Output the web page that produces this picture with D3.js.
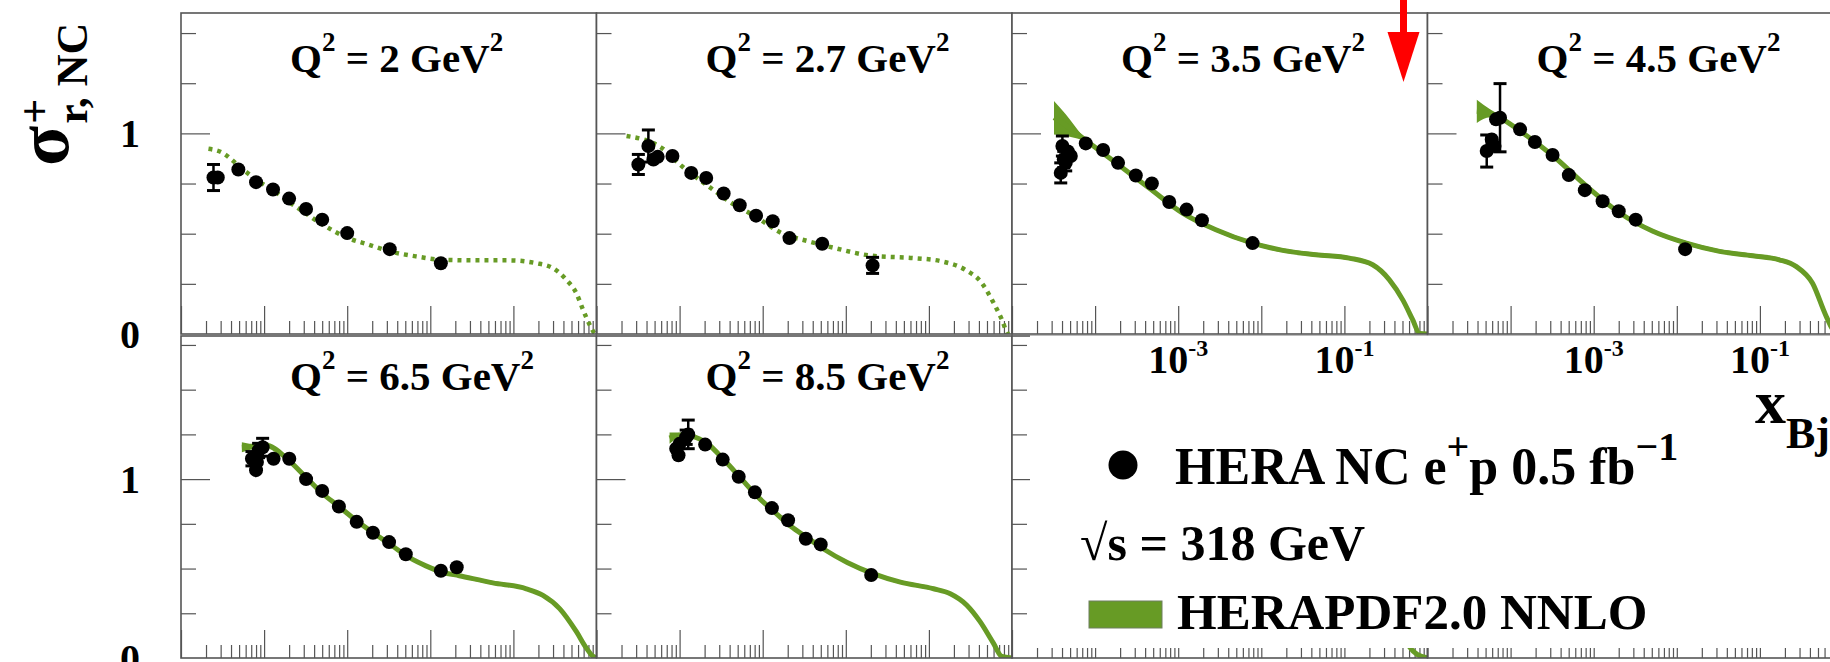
<!DOCTYPE html>
<html>
<head>
<meta charset="utf-8">
<script src="https://cdn.jsdelivr.net/npm/d3@7"></script>
<style>
  body { margin: 0; background: #fff; }
  svg { display: block; font-family: "Liberation Serif", "Times New Roman", serif; font-weight: bold; }
</style>
</head>
<body>
<svg id="chart" width="1830" height="662"></svg>
<script>
// Q^2 of each panel (GeV^2); below q2Min the prediction is drawn dotted
var q2Values = ["2", "2.7", "3.5", "4.5", "6.5", "8.5"];
var q2Min = 3.5;

// measured reduced cross sections: x_Bj, sigma, error
var xQ2_2     = [2.46e-5, 2.77e-5, 4.9e-5, 8.0e-5, 1.28e-4, 2.0e-4, 3.2e-4, 5.0e-4, 1.0e-3, 3.25e-3, 1.34e-2];
var sigmaQ2_2 = [0.78, 0.78, 0.82, 0.757, 0.72, 0.675, 0.623, 0.57, 0.503, 0.423, 0.353];
var errQ2_2   = [0.065, 0.02, 0.012, 0.012, 0.012, 0.012, 0.012, 0.012, 0.012, 0.012, 0.015];

var xQ2_27     = [3.19e-5, 4.21e-5, 4.84e-5, 5.45e-5, 8.2e-5, 1.38e-4, 2.09e-4, 3.39e-4, 5.29e-4, 8.32e-4, 1.32e-3, 2.1e-3, 5.2e-3, 2.1e-2];
var sigmaQ2_27 = [0.845, 0.937, 0.87, 0.883, 0.887, 0.803, 0.778, 0.70, 0.642, 0.59, 0.562, 0.478, 0.45, 0.342];
var errQ2_27   = [0.05, 0.08, 0.02, 0.02, 0.012, 0.012, 0.012, 0.012, 0.012, 0.012, 0.012, 0.012, 0.012, 0.04];

var xQ2_35     = [3.86e-5, 4.04e-5, 4.2e-5, 4.43e-5, 4.7e-5, 5.1e-5, 7.72e-5, 1.25e-4, 1.89e-4, 3.09e-4, 4.82e-4, 7.8e-4, 1.26e-3, 1.93e-3, 7.85e-3];
var sigmaQ2_35 = [0.803, 0.937, 0.87, 0.853, 0.91, 0.887, 0.95, 0.917, 0.853, 0.79, 0.75, 0.658, 0.62, 0.567, 0.453];
var errQ2_35   = [0.05, 0.05, 0.04, 0.04, 0.03, 0.03, 0.012, 0.012, 0.012, 0.012, 0.012, 0.012, 0.012, 0.012, 0.012];

var xQ2_45     = [5.16e-5, 5.93e-5, 6.4e-5, 6.68e-5, 7.46e-5, 1.3e-4, 1.96e-4, 3.2e-4, 5.02e-4, 7.82e-4, 1.28e-3, 2.0e-3, 3.2e-3, 1.26e-2];
var sigmaQ2_45 = [0.912, 0.97, 0.937, 1.07, 1.078, 1.02, 0.957, 0.892, 0.792, 0.717, 0.662, 0.612, 0.57, 0.423];
var errQ2_45   = [0.08, 0.03, 0.03, 0.03, 0.17, 0.012, 0.012, 0.012, 0.012, 0.012, 0.012, 0.012, 0.012, 0.012];

var xQ2_65     = [7.14e-5, 8.0e-5, 8.2e-5, 8.59e-5, 9.6e-5, 1.3e-4, 2.01e-4, 3.2e-4, 5.0e-4, 7.94e-4, 1.3e-3, 2.04e-3, 3.19e-3, 5.07e-3, 1.34e-2, 2.08e-2];
var sigmaQ2_65 = [1.114, 1.05, 1.096, 1.16, 1.178, 1.114, 1.114, 1.0, 0.934, 0.847, 0.761, 0.70, 0.648, 0.58, 0.488, 0.507];
var errQ2_65   = [0.04, 0.03, 0.03, 0.04, 0.05, 0.012, 0.012, 0.012, 0.012, 0.012, 0.012, 0.012, 0.012, 0.012, 0.012, 0.012];

var xQ2_85     = [9.1e-5, 9.7e-5, 1.0e-4, 1.2e-4, 1.27e-4, 2.03e-4, 3.3e-4, 5.14e-4, 8.06e-4, 1.29e-3, 2.02e-3, 3.3e-3, 4.99e-3, 2.02e-2];
var sigmaQ2_85 = [1.17, 1.133, 1.197, 1.234, 1.25, 1.193, 1.109, 1.013, 0.926, 0.838, 0.77, 0.667, 0.635, 0.464];
var errQ2_85   = [0.03, 0.03, 0.03, 0.04, 0.08, 0.012, 0.012, 0.012, 0.012, 0.012, 0.012, 0.012, 0.012, 0.012];

// HERAPDF2.0 NNLO prediction: x_Bj, sigma, band half width
var predXQ2_2 = [2.14e-5, 3.1e-5, 4.9e-5, 6.2e-5, 8e-5, 1.28e-4, 2e-4, 3.2e-4, 5e-4, 1e-3, 1.83e-3, 3.25e-3, 6.7e-3, 1.41e-2, 3.56e-2, 9e-2, 0.188, 0.30, 0.434, 0.573, 0.69, 0.83, 0.955, 1.0];
var predQ2_2  = [0.923, 0.905, 0.84, 0.805, 0.77, 0.717, 0.658, 0.60, 0.547, 0.48, 0.445, 0.412, 0.387, 0.37, 0.367, 0.367, 0.353, 0.328, 0.27, 0.203, 0.12, 0.045, 0.003, 0.0];

var predXQ2_27 = [2.3e-5, 6.07e-5, 1.06e-4, 2.21e-4, 4.23e-4, 8.09e-4, 1.69e-3, 3.55e-3, 7.43e-3, 2.06e-2, 6.84e-2, 0.143, 0.274, 0.435, 0.574, 0.76, 0.9, 1.0];
var predQ2_27  = [0.987, 0.928, 0.837, 0.737, 0.653, 0.587, 0.503, 0.462, 0.428, 0.39, 0.378, 0.362, 0.32, 0.253, 0.17, 0.07, 0.0, 0.0];

var predXQ2_35   = [3.2e-5, 4.43e-5, 7.03e-5, 1.78e-4, 4.47e-4, 1.13e-3, 2.84e-3, 7.85e-3, 1.81e-2, 4.56e-2, 0.115, 0.219, 0.348, 0.504, 0.665, 0.80, 1.0];
var predQ2_35    = [1.078, 1.041, 0.978, 0.853, 0.728, 0.603, 0.52, 0.453, 0.417, 0.395, 0.378, 0.345, 0.27, 0.17, 0.07, 0.003, 0.0];
var predErrQ2_35 = [0.083, 0.054, 0.012, 0.01, 0.01, 0.01, 0.01, 0.01, 0.01, 0.01, 0.01, 0.01, 0.01, 0.01, 0.01, 0.01, 0.01];

var predXQ2_45   = [3.92e-5, 5.66e-5, 7.46e-5, 1.3e-4, 3.26e-4, 8.2e-4, 2.06e-3, 5.16e-3, 1.3e-2, 3.27e-2, 8.2e-2, 0.171, 0.272, 0.43, 0.63, 0.8, 1.0];
var predQ2_45    = [1.11, 1.10, 1.078, 1.012, 0.887, 0.737, 0.603, 0.512, 0.453, 0.412, 0.39, 0.37, 0.337, 0.253, 0.087, 0.01, 0.0];
var predErrQ2_45 = [0.058, 0.02, 0.012, 0.01, 0.01, 0.01, 0.01, 0.01, 0.01, 0.01, 0.01, 0.01, 0.01, 0.01, 0.01, 0.01, 0.01];

var predXQ2_65   = [5.4e-5, 7.14e-5, 1.03e-4, 1.98e-4, 3.15e-4, 5e-4, 7.94e-4, 1.32e-3, 2.2e-3, 3.5e-3, 5.56e-3, 8.85e-3, 1.41e-2, 2.23e-2, 5.65e-2, 0.143, 0.227, 0.36, 0.573, 0.757, 0.91, 1.0];
var predQ2_65    = [1.178, 1.182, 1.19, 1.105, 1.013, 0.921, 0.847, 0.764, 0.69, 0.626, 0.562, 0.515, 0.479, 0.46, 0.42, 0.387, 0.35, 0.276, 0.147, 0.055, 0.009, 0.0];
var predErrQ2_65 = [0.028, 0.015, 0.01, 0.01, 0.01, 0.01, 0.01, 0.01, 0.01, 0.01, 0.01, 0.01, 0.01, 0.01, 0.01, 0.01, 0.01, 0.01, 0.01, 0.01, 0.01, 0.01];

var predXQ2_85   = [7.57e-5, 1.0e-4, 1.38e-4, 2.18e-4, 3.46e-4, 5.48e-4, 8.69e-4, 1.37e-3, 2.18e-3, 3.45e-3, 5.46e-3, 1.04e-2, 2.17e-2, 4.54e-2, 0.114, 0.181, 0.286, 0.413, 0.597, 0.752, 1.0];
var predQ2_85    = [1.229, 1.245, 1.24, 1.197, 1.105, 1.004, 0.902, 0.819, 0.736, 0.672, 0.608, 0.534, 0.47, 0.424, 0.387, 0.359, 0.295, 0.203, 0.083, 0.009, 0.0];
var predErrQ2_85 = [0.032, 0.015, 0.01, 0.01, 0.01, 0.01, 0.01, 0.01, 0.01, 0.01, 0.01, 0.01, 0.01, 0.01, 0.01, 0.01, 0.01, 0.01, 0.01, 0.01, 0.01];

// tail of the next panel's prediction, showing below the legend
var predXHidden = [0.4, 0.5, 0.6, 0.75, 0.92, 1.0];
var predHidden  = [0.2, 0.13, 0.065, 0.02, 0.005, 0.0];

var xDomain = [1e-5, 1];
var xLabelTicks = [1e-3, 1e-1];

var GREEN = '#679b25';
var FRAME = '#555';

var colLeft = [181, 596.5, 1012, 1427.5];
var panelW = 415.5;
var rowBox = [
  { top: 13, bottom: 334, max: 1.6, titleY: 72 },
  { top: 336, bottom: 658, max: 1.8, titleY: 390 }
];

var panels = [
  { q2: q2Values[0], col: 0, row: 0, x: xQ2_2, s: sigmaQ2_2, e: errQ2_2, px: predXQ2_2, ps: predQ2_2 },
  { q2: q2Values[1], col: 1, row: 0, x: xQ2_27, s: sigmaQ2_27, e: errQ2_27, px: predXQ2_27, ps: predQ2_27 },
  { q2: q2Values[2], col: 2, row: 0, x: xQ2_35, s: sigmaQ2_35, e: errQ2_35, px: predXQ2_35, ps: predQ2_35, pe: predErrQ2_35 },
  { q2: q2Values[3], col: 3, row: 0, x: xQ2_45, s: sigmaQ2_45, e: errQ2_45, px: predXQ2_45, ps: predQ2_45, pe: predErrQ2_45 },
  { q2: q2Values[4], col: 0, row: 1, x: xQ2_65, s: sigmaQ2_65, e: errQ2_65, px: predXQ2_65, ps: predQ2_65, pe: predErrQ2_65 },
  { q2: q2Values[5], col: 1, row: 1, x: xQ2_85, s: sigmaQ2_85, e: errQ2_85, px: predXQ2_85, ps: predQ2_85, pe: predErrQ2_85 },
  { q2: null, col: 2, row: 1, x: [], s: [], e: [], px: predXHidden, ps: predHidden },
  { q2: null, col: 3, row: 1, x: [], s: [], e: [], px: [], ps: [] }
];

var svg = d3.select('#chart');
var defs = svg.append('defs');

function isDecade(v) {
  var l = Math.log10(v);
  return Math.abs(l - Math.round(l)) < 1e-9;
}

// text with superscript / subscript pieces
function richText(sel, segs, big, small, raise, lower) {
  var shift = 0;
  segs.forEach(function (s) {
    var target = s.v === 'sup' ? -raise : (s.v === 'sub' ? lower : 0);
    sel.append('tspan')
      .attr('font-size', s.v ? small : big)
      .attr('dy', target - shift)
      .text(s.t);
    shift = target;
  });
  return sel;
}

var scales = [];

function drawPanel(p, i) {
  var left = colLeft[p.col], row = rowBox[p.row];
  var x = d3.scaleLog().domain(xDomain).range([left, left + panelW]);
  var y = d3.scaleLinear().domain([0, row.max]).range([row.bottom, row.top]);
  scales[i] = { x: x, y: y };
  var g = svg.append('g');

  g.append('rect')
    .attr('x', left).attr('y', row.top)
    .attr('width', panelW).attr('height', row.bottom - row.top)
    .attr('fill', '#fff');

  defs.append('clipPath').attr('id', 'clip' + i)
    .append('rect')
    .attr('x', left).attr('y', row.top)
    .attr('width', panelW).attr('height', row.bottom - row.top);

  // x ticks, pointing up into the panel
  var xt = x.ticks();
  var xMajor = xt.filter(isDecade), xMinor = xt.filter(function (v) { return !isDecade(v); });
  var axX1 = g.append('g').attr('transform', 'translate(0,' + row.bottom + ')')
    .call(d3.axisBottom(x).tickValues(xMinor).tickSize(-13).tickFormat(''));
  var axX2 = g.append('g').attr('transform', 'translate(0,' + row.bottom + ')')
    .call(d3.axisBottom(x).tickValues(xMajor).tickSize(-28).tickFormat(''));

  // y ticks, pointing right into the panel
  var yt = d3.range(0.25, row.max, 0.25);
  var axY1 = g.append('g').attr('transform', 'translate(' + left + ',0)')
    .call(d3.axisLeft(y).tickValues(yt.filter(function (v) { return v % 1 !== 0; })).tickSize(-15).tickFormat(''));
  var axY2 = g.append('g').attr('transform', 'translate(' + left + ',0)')
    .call(d3.axisLeft(y).tickValues(yt.filter(function (v) { return v % 1 === 0; })).tickSize(-29).tickFormat(''));

  [axX1, axX2, axY1, axY2].forEach(function (a) {
    a.select('.domain').remove();
    a.selectAll('line').attr('stroke', FRAME).attr('stroke-width', 1.2);
  });

  // prediction
  var pts = p.px.map(function (v, k) { return { x: v, y: p.ps[k], w: p.pe ? p.pe[k] : 0 }; });
  var pg = g.append('g').attr('clip-path', 'url(#clip' + i + ')');
  var line = d3.line().x(function (d) { return x(d.x); }).y(function (d) { return y(d.y); }).curve(d3.curveMonotoneX);
  if (pts.length) {
    var dotted = p.q2 !== null && +p.q2 < q2Min;
    if (dotted) {
      pg.append('path').datum(pts).attr('d', line)
        .attr('fill', 'none').attr('stroke', GREEN)
        .attr('stroke-width', 4.5).attr('stroke-dasharray', '4 5');
    } else {
      if (p.pe) {
        pg.append('path').datum(pts)
          .attr('d', d3.area()
            .x(function (d) { return x(d.x); })
            .y0(function (d) { return y(d.y - d.w); })
            .y1(function (d) { return y(d.y + d.w); })
            .curve(d3.curveMonotoneX))
          .attr('fill', GREEN);
      }
      pg.append('path').datum(pts).attr('d', line)
        .attr('fill', 'none').attr('stroke', GREEN).attr('stroke-width', 5);
    }
  }

  // data points with error bars
  var r = 7;
  var data = p.x.map(function (v, k) { return { x: v, y: p.s[k], e: p.e[k] }; });
  var bars = data.filter(function (d) { return (y(d.y - d.e) - y(d.y + d.e)) / 2 > r; });
  var eb = g.append('g').attr('stroke', '#000').attr('stroke-width', 2.5);
  eb.selectAll('line.v').data(bars).join('line')
    .attr('x1', function (d) { return x(d.x); }).attr('x2', function (d) { return x(d.x); })
    .attr('y1', function (d) { return y(d.y - d.e); }).attr('y2', function (d) { return y(d.y + d.e); });
  eb.selectAll('line.t').data(bars).join('line')
    .attr('x1', function (d) { return x(d.x) - 6.5; }).attr('x2', function (d) { return x(d.x) + 6.5; })
    .attr('y1', function (d) { return y(d.y + d.e); }).attr('y2', function (d) { return y(d.y + d.e); })
    .attr('stroke-width', 3);
  eb.selectAll('line.b').data(bars).join('line')
    .attr('x1', function (d) { return x(d.x) - 6.5; }).attr('x2', function (d) { return x(d.x) + 6.5; })
    .attr('y1', function (d) { return y(d.y - d.e); }).attr('y2', function (d) { return y(d.y - d.e); })
    .attr('stroke-width', 3);
  g.append('g').selectAll('circle').data(data).join('circle')
    .attr('cx', function (d) { return x(d.x); })
    .attr('cy', function (d) { return y(d.y); })
    .attr('r', r).attr('fill', '#000');

  // frame
  g.append('rect')
    .attr('x', left).attr('y', row.top)
    .attr('width', panelW).attr('height', row.bottom - row.top)
    .attr('fill', 'none').attr('stroke', FRAME).attr('stroke-width', 1.6);

  if (p.q2 !== null) {
    richText(g.append('text').attr('x', left + 109).attr('y', row.titleY).attr('fill', '#000'),
      [{ t: 'Q' }, { t: '2', v: 'sup' }, { t: ' = ' + p.q2 + ' GeV' }, { t: '2', v: 'sup' }],
      41, 27, 21, 0);
  }
}

panels.forEach(drawPanel);

// legend box over the lower right panels
svg.append('rect').attr('x', 1030).attr('y', 335.5).attr('width', 800).attr('height', 312.5).attr('fill', '#fff');

// x tick labels under the upper right panels
[2, 3].forEach(function (i) {
  var x = scales[i].x;
  xLabelTicks.forEach(function (v) {
    richText(svg.append('text').attr('x', x(v)).attr('y', 373).attr('text-anchor', 'middle'),
      [{ t: '10' }, { t: String(Math.round(Math.log10(v))), v: 'sup' }], 40, 24, 17, 0);
  });
});

// y tick labels on the left column
[0, 4].forEach(function (i) {
  var y = scales[i].y;
  svg.selectAll(null).data([0, 1]).enter().append('text')
    .attr('x', 140).attr('y', function (d) { return y(d); })
    .attr('dy', '0.35em').attr('text-anchor', 'end')
    .attr('font-size', 40).text(function (d) { return d; });
});

// axis titles
var yt = svg.append('g').attr('transform', 'translate(68,166) rotate(-90)');
var sig = yt.append('text').attr('x', 0).attr('y', 0).attr('font-size', 74).text('\u03c3');
var sigW = sig.node().getComputedTextLength();
yt.append('text').attr('x', sigW + 2).attr('y', -19).attr('font-size', 44).text('+');
yt.append('text').attr('x', sigW + 2).attr('y', 19).attr('font-size', 44).text('r, NC');

richText(svg.append('text').attr('x', 1755).attr('y', 423),
  [{ t: 'x' }, { t: 'Bj', v: 'sub' }], 62, 44, 0, 25);

// legend entries
svg.append('circle').attr('cx', 1123).attr('cy', 465).attr('r', 14.5).attr('fill', '#000');
richText(svg.append('text').attr('x', 1175).attr('y', 484),
  [{ t: 'HERA NC e' }, { t: '+', v: 'sup' }, { t: 'p 0.5 fb' }, { t: '\u22121', v: 'sup' }], 52, 40, 24, 0);
svg.append('text').attr('x', 1080).attr('y', 560).attr('font-size', 50).text('\u221as = 318 GeV');
svg.append('rect').attr('x', 1089).attr('y', 601).attr('width', 73).attr('height', 27)
  .attr('fill', GREEN).attr('stroke', '#6f7f60').attr('stroke-width', 1);
svg.append('text').attr('x', 1177).attr('y', 629).attr('font-size', 51).text('HERAPDF2.0 NNLO');

// red arrow marking the Q2 cut
var arrowX = colLeft[2] + panelW - 24;
svg.append('rect').attr('x', arrowX - 3.5).attr('y', 0).attr('width', 7).attr('height', 34).attr('fill', '#ff0000');
svg.append('path')
  .attr('d', 'M' + (arrowX - 16) + ',32 L' + (arrowX + 16) + ',32 L' + arrowX + ',82 Z')
  .attr('fill', '#ff0000');
</script>
</body>
</html>
